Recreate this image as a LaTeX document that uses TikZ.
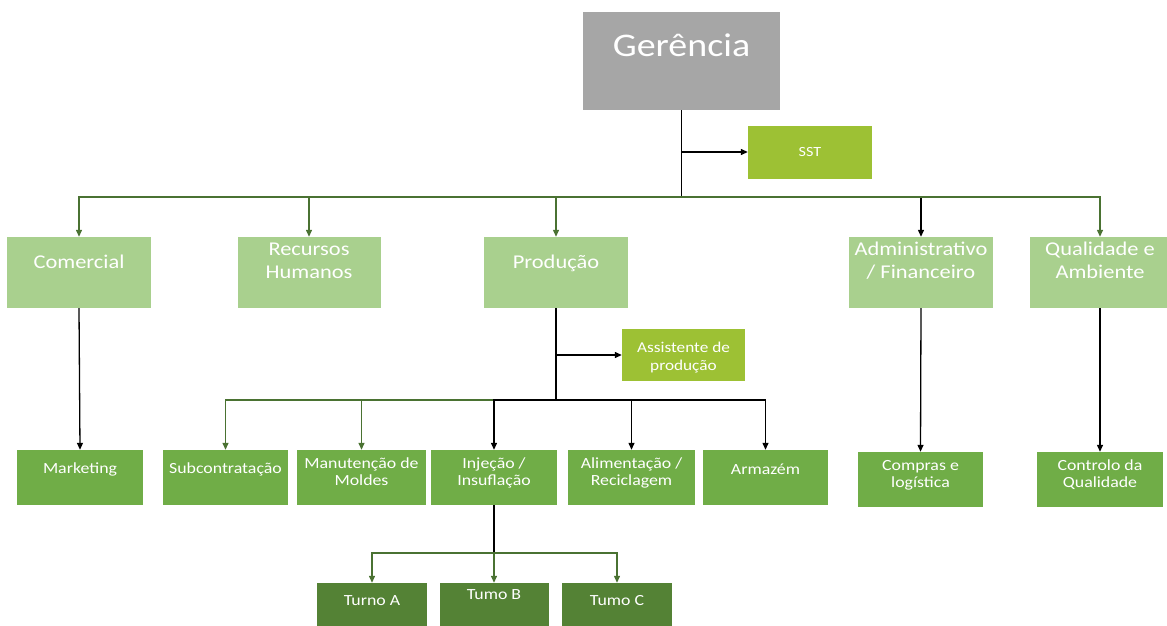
\documentclass[tikz,border=0pt]{standalone}
\usepackage{fontspec}
\setmainfont{Carlito}[FakeStretch=1.15]
\usetikzlibrary{arrows.meta}
\definecolor{gerc}{HTML}{A6A6A6}
\definecolor{lime}{HTML}{9DC134}
\definecolor{lgreen}{HTML}{A9D08E}
\definecolor{mgreen}{HTML}{70AD47}
\definecolor{dgreen}{HTML}{548235}
\definecolor{gline}{HTML}{4A7232}
\newcommand{\boxtext}[2]{\raisebox{#1}[0pt][0pt]{\begin{tabular}{@{}c@{}}#2\end{tabular}}}
\begin{document}
\begin{tikzpicture}[x=1pt,y=-1pt,
  box/.style={inner sep=0pt, text=white, anchor=center},
  gerbox/.style={box, fill=gerc, minimum width=197pt, minimum height=98pt, font=\fontsize{33}{38}\selectfont},
  limebox/.style={box, fill=lime},
  lvltwo/.style={box, fill=lgreen, minimum width=144pt, minimum height=71pt, font=\fontsize{19.5}{23}\selectfont},
  lvlthree/.style={box, fill=mgreen, minimum width=126pt, minimum height=55pt, font=\fontsize{15.5}{17}\selectfont},
  shiftbox/.style={box, fill=dgreen, minimum width=110pt, minimum height=45pt, font=\fontsize{15.5}{17}\selectfont},
  kline/.style={draw=black, line width=1.3pt},
  gconn/.style={draw=gline, line width=1.3pt},
  karrow/.style={kline, -{Triangle[length=7pt,width=6pt]}},
  garrow/.style={gconn, -{Triangle[length=7pt,width=6pt]}}
]
\useasboundingbox (0,0) rectangle (1167,626);

% top
\node[gerbox] (ger) at (681.5,61) {\boxtext{6pt}{Gerência}};
\node[limebox, minimum width=124pt, minimum height=53pt, font=\fontsize{14}{17}\selectfont] (sst) at (810,152) {SST};

% level 2
\node[lvltwo] (com) at (79,272.5) {\boxtext{3pt}{Comercial}};
\node[lvltwo, minimum width=143pt] (rh) at (309,272.5) {\boxtext{4.5pt}{Recursos\\Humanos}};
\node[lvltwo] (pro) at (556,272.5) {\boxtext{3pt}{Produção}};
\node[lvltwo] (adm) at (921,272.5) {\boxtext{4.5pt}{Administrativo\\/ Financeiro}};
\node[lvltwo, minimum width=140pt] (qua) at (1100,272.5) {\boxtext{4.5pt}{Qualidade e\\Ambiente}};

\node[limebox, minimum width=123pt, minimum height=52pt, font=\fontsize{15}{18}\selectfont] (asst) at (683.5,355) {\boxtext{-6pt}{Assistente de\\produção}};

% level 3
\node[lvlthree] (mkt) at (80,477.5) {\boxtext{4pt}{Marketing}};
\node[lvlthree, minimum width=125pt] (sub) at (225.5,477.5) {\boxtext{4pt}{Subcontratação}};
\node[lvlthree, minimum width=129pt] (man) at (361.5,477.5) {\boxtext{0.5pt}{Manutenção de\\Moldes}};
\node[lvlthree] (inj) at (494,477.5) {\boxtext{0.5pt}{Injeção /\\Insuflação}};
\node[lvlthree, minimum width=127pt] (ali) at (631.5,477.5) {\boxtext{0.5pt}{Alimentação /\\Reciclagem}};
\node[lvlthree, minimum width=125pt] (arm) at (765.5,477.5) {\boxtext{2.5pt}{Armazém}};
\node[lvlthree, minimum width=125pt] (cmp) at (920.5,479.5) {\boxtext{0.5pt}{Compras e\\logística}};
\node[lvlthree] (ctl) at (1100,479.5) {\boxtext{0.5pt}{Controlo da\\Qualidade}};

% level 4
\node[shiftbox] (ta) at (372,605.5) {\boxtext{0pt}{Turno A}};
\node[shiftbox, minimum width=109pt] (tb) at (494,605.5) {\boxtext{5.5pt}{Tumo B}};
\node[shiftbox] (tc) at (617,605.5) {\boxtext{0pt}{Tumo C}};

% junctions
\coordinate (j0) at (681.5,197);
\coordinate (js) at (681.5,152);
\coordinate (j1) at (556,400);
\coordinate (ja) at (556,355);
\coordinate (j2) at (494,553);

% connectors
\draw[kline] (ger.south) -- (j0);
\draw[karrow] (js) -- (sst.west);
\draw[garrow] (j0) -| (com.north);
\draw[garrow] (j0) -| (rh.north);
\draw[garrow] (j0) -| (pro.north);
\draw[karrow] (j0) -| (adm.north);
\draw[garrow] (j0) -| (qua.north);

\draw[karrow] (com.south) -- (mkt.north);
\draw[kline] (pro.south) -- (j1);
\draw[karrow] (ja) -- (asst.west);
\draw[garrow] (j1) -| (sub.north);
\draw[garrow] (j1) -| (man.north);
\draw[karrow] (j1) -| (inj.north);
\draw[karrow] (j1) -| (ali.north);
\draw[karrow] (j1) -| (arm.north);
\draw[karrow] (adm.south) -- (cmp.north);
\draw[karrow] (qua.south) -- (ctl.north);

\draw[kline] (inj.south) -- (j2);
\draw[garrow] (j2) -| (ta.north);
\draw[garrow] (j2) -- (tb.north);
\draw[garrow] (j2) -| (tc.north);
\end{tikzpicture}
\end{document}
